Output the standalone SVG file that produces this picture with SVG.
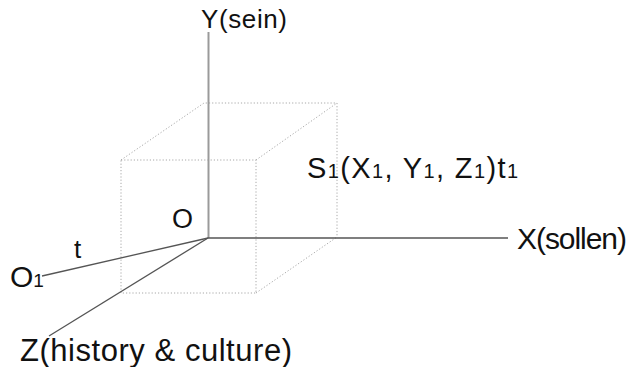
<svg xmlns="http://www.w3.org/2000/svg" width="630" height="367" viewBox="0 0 630 367">
<style>
.t{font-family:"Liberation Sans","DejaVu Sans",sans-serif;fill:#111}
.dot{stroke:#a8a8a8;stroke-width:1;stroke-dasharray:1.2 2;fill:none}
.ax{stroke:#555;stroke-width:1.3;fill:none}
</style>
<rect width="630" height="367" fill="#fff"/>
<g id="cube">
<path class="dot" d="M121 160H256V293H121Z M121 160L204 103H337V237 M256 160L337 103 M256 293L337 237"/>
</g>
<g id="connectors">
<line x1="208.5" y1="32" x2="208.5" y2="238" stroke="#9a9a9a" stroke-width="2"/>
<line class="ax" x1="208" y1="238" x2="508" y2="238"/>
<line class="ax" x1="208" y1="238" x2="49" y2="336"/>
<line class="ax" x1="208" y1="238" x2="42" y2="276"/>
</g>
<g id="labelY"><text class="t" x="201" y="28" font-size="26" textLength="86">Y(sein)</text></g>
<g id="labelO"><text class="t" x="172" y="228" font-size="27">O</text></g>
<g id="labelT"><text class="t" x="74" y="258" font-size="26">t</text></g>
<g id="labelO1"><text class="t" x="10" y="287" font-size="30">O<tspan font-size="19">1</tspan></text></g>
<g id="labelX"><text class="t" x="517" y="249" font-size="30" textLength="110">X(sollen)</text></g>
<g id="labelS1"><text class="t" x="307" y="178" font-size="29" textLength="211">S<tspan font-size="20">1</tspan>(X<tspan font-size="20">1</tspan>, Y<tspan font-size="20">1</tspan>, Z<tspan font-size="20">1</tspan>)t<tspan font-size="20">1</tspan></text></g>
<g id="labelZ"><text class="t" x="20" y="361" font-size="31" textLength="272">Z(history &amp; culture)</text></g>
</svg>
